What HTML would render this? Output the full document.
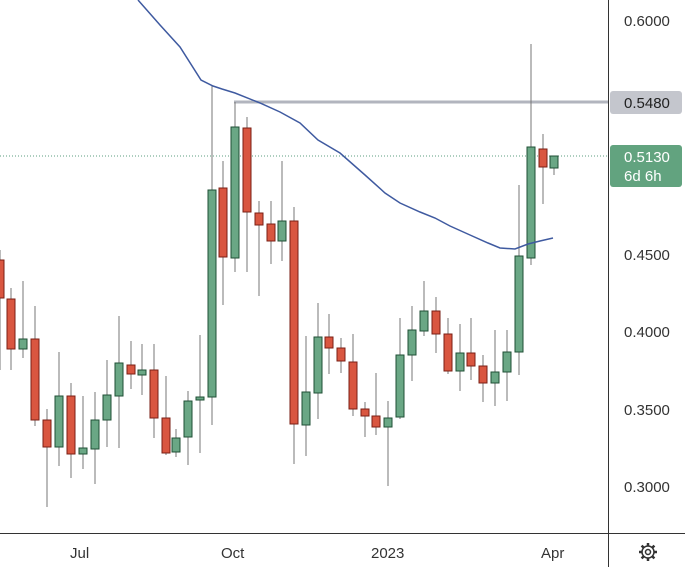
<!DOCTYPE html>
<html><head><style>
body{margin:0;background:#fff;}
svg text{font-family:"Liberation Sans",sans-serif;}
</style></head><body>
<svg width="685" height="567" xmlns="http://www.w3.org/2000/svg">
<rect width="685" height="567" fill="#fff"/>
<line x1="0" y1="156" x2="608" y2="156" stroke="#5b9c7f" stroke-width="1" stroke-dasharray="1,2"/>
<line x1="234" y1="102" x2="608" y2="102" stroke="#b2b5be" stroke-width="3"/>
<g id="c"></g>
<polyline fill="none" stroke="#3f5aa0" stroke-width="1.5" points="138,0 160,25 180,47 201,80 213,86 222,89 235,93 260,103 280,112 300,123 318,140 340,153 365,175 385,193 400,203 420,212 435,218 450,226 470,235 488,243 500,248 515,249 528,244 540,241 553,238"/>
<line x1="608.5" y1="0" x2="608.5" y2="567" stroke="#333" stroke-width="1"/>
<line x1="0" y1="533.5" x2="685" y2="533.5" stroke="#333" stroke-width="1"/>
<g font-size="15" fill="#333">
<text x="624" y="26">0.6000</text>
<text x="624" y="260">0.4500</text>
<text x="624" y="337">0.4000</text>
<text x="624" y="415">0.3500</text>
<text x="624" y="492">0.3000</text>
<text x="70" y="558">Jul</text>
<text x="221" y="558">Oct</text>
<text x="371" y="558">2023</text>
<text x="541" y="558">Apr</text>
</g>
<rect x="610" y="91" width="72" height="23" rx="3" fill="#c4c6cd"/>
<text x="624" y="108" font-size="15" fill="#222">0.5480</text>
<rect x="610" y="145" width="72" height="42" rx="3" fill="#62a37f"/>
<text x="624" y="162" font-size="15" fill="#fff">0.5130</text>
<text x="624" y="181" font-size="15" fill="#fff">6d 6h</text>
<g transform="translate(648,552)" fill="none" stroke="#333" stroke-width="1.5">
<circle r="6"/><circle r="2.5"/>
<g stroke-width="2.5"><line x1="0" y1="-9" x2="0" y2="-6"/><line x1="0" y1="9" x2="0" y2="6"/><line x1="-9" y1="0" x2="-6" y2="0"/><line x1="9" y1="0" x2="6" y2="0"/><line x1="-6.4" y1="-6.4" x2="-4.2" y2="-4.2"/><line x1="6.4" y1="6.4" x2="4.2" y2="4.2"/><line x1="-6.4" y1="6.4" x2="-4.2" y2="4.2"/><line x1="6.4" y1="-6.4" x2="4.2" y2="-4.2"/></g>
</g>
</svg>
<script>
var d=[[0,250,370,260,298,'r'],[11,288,370,299,349,'r'],[23,281,358,339,349,'g'],[35,306,426,339,420,'r'],[47,409,507,420,447,'r'],[59,352,466,396,447,'g'],[71,383,478,396,454,'r'],[83,396,469,448,454,'g'],[95,392,484,420,449,'g'],[107,360,447,395,420,'g'],[119,316,448,363,396,'g'],[131,341,389,365,374,'r'],[142,344,395,370,375,'g'],[154,344,438,370,418,'r'],[166,376,455,418,453,'r'],[176,429,457,438,452,'g'],[188,391,465,401,437,'g'],[200,335,453,397,400,'g'],[212,86,425,190,397,'g'],[223,161,305,188,257,'r'],[235,102,272,127,258,'g'],[247,117,272,128,212,'r'],[259,201,296,213,225,'r'],[271,201,264,224,241,'r'],[282,161,261,221,241,'g'],[294,207,464,221,424,'r'],[306,336,456,392,425,'g'],[318,303,419,337,393,'g'],[329,314,374,337,348,'r'],[341,338,373,348,361,'r'],[353,334,416,362,409,'r'],[365,402,437,409,416,'r'],[376,373,435,416,427,'r'],[388,401,486,418,427,'g'],[400,318,419,355,417,'g'],[412,306,381,330,355,'g'],[424,281,336,311,331,'g'],[436,297,353,311,334,'r'],[448,318,374,334,371,'r'],[460,324,391,353,371,'g'],[471,318,380,353,366,'r'],[483,355,402,366,383,'r'],[495,330,406,372,383,'g'],[507,330,401,352,372,'g'],[519,185,375,256,352,'g'],[531,44,265,147,258,'g'],[543,134,204,149,167,'r'],[554,156,175,156,168,'g']];
var s='';d.forEach(function(c){var f=c[5]=='r'?'#d95640':'#6aa785',st=c[5]=='r'?'#7a1f14':'#1f4f35';
s+='<line x1="'+c[0]+'" y1="'+c[1]+'" x2="'+c[0]+'" y2="'+c[2]+'" stroke="#777" stroke-width="1"/>';
s+='<rect x="'+(c[0]-4)+'" y="'+c[3]+'" width="8" height="'+Math.max(1,c[4]-c[3])+'" fill="'+f+'" stroke="'+st+'" stroke-width="1"/>';});
document.getElementById('c').innerHTML=s;
</script>
</body></html>
